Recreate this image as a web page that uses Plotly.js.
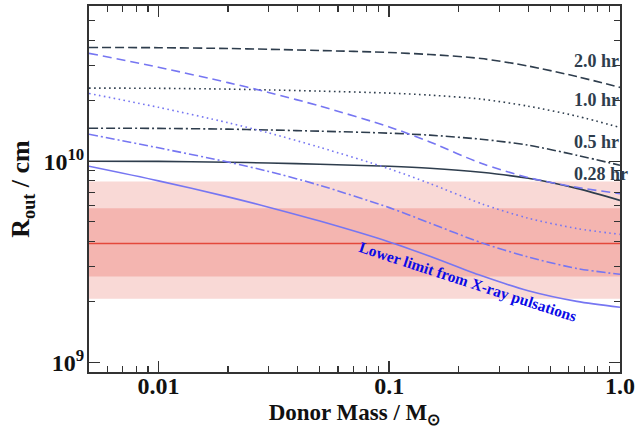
<!DOCTYPE html>
<html>
<head>
<meta charset="utf-8">
<script src="https://cdn.plot.ly/plotly-3.0.1.min.js"></script>
<style>html,body{margin:0;padding:0;background:#fff;}#chart{width:638px;height:428px;}</style>
</head>
<body>
<div id="chart"></div>
<script>
// Donor mass grid (solar masses)
const donorMass = [0.005, 0.01, 0.02, 0.03, 0.05, 0.1, 0.15, 0.25, 0.4, 0.65, 1.0];

// Outer radius curves (cm) for each orbital period - dark set
const dark_2hr   = [3.678e10, 3.670e10, 3.636e10, 3.603e10, 3.554e10, 3.473e10, 3.394e10, 3.242e10, 2.975e10, 2.637e10, 2.329e10];
const dark_1hr   = [2.311e10, 2.305e10, 2.284e10, 2.263e10, 2.233e10, 2.182e10, 2.132e10, 2.037e10, 1.879e10, 1.676e10, 1.472e10];
const dark_05hr  = [1.460e10, 1.457e10, 1.444e10, 1.431e10, 1.411e10, 1.379e10, 1.348e10, 1.287e10, 1.202e10, 1.071e10, 0.955e10];
const dark_028hr = [1.000e10, 0.998e10, 0.989e10, 0.980e10, 0.966e10, 0.944e10, 0.923e10, 0.881e10, 0.823e10, 0.733e10, 0.639e10];

// Blue set
const blue_2hr   = [3.441e10, 2.933e10, 2.461e10, 2.199e10, 1.882e10, 1.481e10, 1.247e10, 0.977e10, 0.830e10, 0.742e10, 0.690e10];
const blue_1hr   = [2.174e10, 1.854e10, 1.555e10, 1.384e10, 1.173e10, 0.917e10, 0.775e10, 0.616e10, 0.521e10, 0.463e10, 0.433e10];
const blue_05hr  = [1.363e10, 1.166e10, 0.991e10, 0.890e10, 0.759e10, 0.588e10, 0.493e10, 0.394e10, 0.334e10, 0.293e10, 0.274e10];
const blue_028hr = [0.944e10, 0.799e10, 0.665e10, 0.591e10, 0.504e10, 0.397e10, 0.337e10, 0.270e10, 0.227e10, 0.201e10, 0.188e10];

// Constraint bands (cm)
const bandOuter = [2.07e9, 7.94e9];
const bandInner = [2.67e9, 5.84e9];
const centralValue = 3.9e9;

// Period labels
const periodLabels = ["2.0 hr", "1.0 hr", "0.5 hr", "0.28 hr"];
const periodLabelR = [3.15e10, 2.01e10, 1.247e10, 0.869e10];
const periodLabelMass = 0.617;

const limitText = "Lower limit from X-ray pulsations";
const limitTextMass = 0.219;
const limitTextR = 2.51e9;

// Ticks
const xTickVals = [0.01, 0.1, 1.0];
const xTickText = ["0.01", "0.1", "1.0"];
const yTickVals = [1e9, 1e10];
const yTickText = ["10<sup>9</sup>", "10<sup>10</sup>"];
const xMinor = [0.006,0.007,0.008,0.009,0.02,0.03,0.04,0.05,0.06,0.07,0.08,0.09,0.2,0.3,0.4,0.5,0.6,0.7,0.8,0.9];
const yMinor = [2e9,3e9,4e9,5e9,6e9,7e9,8e9,9e9,2e10,3e10,4e10,5e10];

const DARK = "#2e3d4d";
const BLUE = "#7676f2";
const FONT = "Liberation Serif";

function tr(y, color, dash) {
  return {x: donorMass, y: y, type: "scatter", mode: "lines",
          line: {color: color, width: 1.6, dash: dash, shape: "spline", smoothing: 0.8},
          hoverinfo: "skip", showlegend: false};
}

const traces = [
  tr(dark_2hr, DARK, "9px,4px"),
  tr(dark_1hr, DARK, "1.6px,3.4px"),
  tr(dark_05hr, DARK, "9px,3px,2px,3px"),
  tr(dark_028hr, DARK, "solid"),
  tr(blue_2hr, BLUE, "9px,5px"),
  tr(blue_1hr, BLUE, "1.6px,3.4px"),
  tr(blue_05hr, BLUE, "9px,3px,2px,3px"),
  tr(blue_028hr, BLUE, "solid")
];

const shapes = [
  {type: "rect", xref: "paper", yref: "y", x0: 0, x1: 1, y0: bandOuter[0], y1: bandOuter[1],
   fillcolor: "#f9d9d6", line: {width: 0}, layer: "below"},
  {type: "rect", xref: "paper", yref: "y", x0: 0, x1: 1, y0: bandInner[0], y1: bandInner[1],
   fillcolor: "#f4b5b0", line: {width: 0}, layer: "below"},
  {type: "line", xref: "paper", yref: "y", x0: 0, x1: 1, y0: centralValue, y1: centralValue,
   line: {color: "#e4483b", width: 1.6}, layer: "below"}
];

const annotations = periodLabels.map((t, i) => ({
  text: "<b>" + t + "</b>", x: Math.log10(periodLabelMass), y: Math.log10(periodLabelR[i]),
  xref: "x", yref: "y", xanchor: "left", yanchor: "middle", showarrow: false,
  font: {family: FONT, size: 18, color: DARK}
}));
annotations.push({
  text: "<b>" + limitText + "</b>", x: Math.log10(limitTextMass), y: Math.log10(limitTextR),
  xref: "x", yref: "y", xanchor: "center", yanchor: "middle", showarrow: false,
  textangle: 18, font: {family: FONT, size: 15.5, color: "#0a0ae6"}
});

const axisCommon = {
  showline: true, linecolor: "#333", linewidth: 2, mirror: "allticks",
  ticks: "inside", ticklen: 11, tickwidth: 1.5, tickcolor: "#333",
  showgrid: false, zeroline: false,
  tickfont: {family: FONT, size: 24, color: "#111", weight: "bold"}
};

const layout = {
  width: 638, height: 428,
  margin: {l: 89, r: 18, t: 6, b: 56, pad: 0},
  paper_bgcolor: "#fff", plot_bgcolor: "#fff",
  showlegend: false,
  xaxis: Object.assign({}, axisCommon, {
    type: "log", range: [Math.log10(0.005), 0],
    tickmode: "array", tickvals: xTickVals, ticktext: xTickText,
    ticklabelstandoff: -9,
    minor: {tickmode: "array", tickvals: xMinor, ticks: "inside", ticklen: 6, tickwidth: 1.2, tickcolor: "#333"},
    title: {text: "<b>Donor Mass / M<sub>⊙</sub></b>", font: {family: FONT, size: 23, color: "#111"}, standoff: 8}
  }),
  yaxis: Object.assign({}, axisCommon, {
    type: "log", range: [8.952, 10.772],
    tickmode: "array", tickvals: yTickVals, ticktext: yTickText,
    ticklabelstandoff: -2,
    minor: {tickmode: "array", tickvals: yMinor, ticks: "inside", ticklen: 6, tickwidth: 1.2, tickcolor: "#333"},
    title: {text: "<b>R<sub>out</sub> / cm</b>", font: {family: FONT, size: 26, color: "#111"}, standoff: 6}
  }),
  shapes: shapes,
  annotations: annotations
};

Plotly.newPlot("chart", traces, layout, {displayModeBar: false, staticPlot: true});
</script>
</body>
</html>
